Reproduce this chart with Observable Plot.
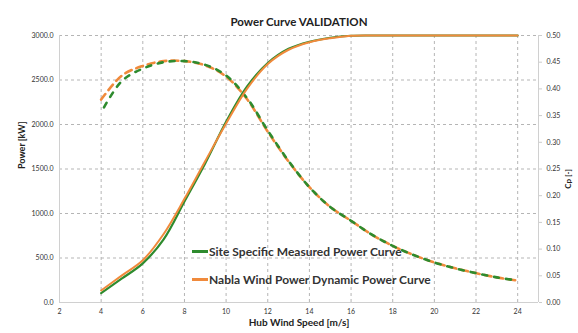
<!DOCTYPE html>
<html>
<head>
<meta charset="utf-8">
<script src="https://cdn.jsdelivr.net/npm/d3@7"></script>
<script src="https://cdn.jsdelivr.net/npm/@observablehq/plot@0.6"></script>
<style>
  body { margin: 0; background: #fff; }
  #wrap { position: relative; width: 578px; height: 333px; font-family: Lato, "Open Sans", sans-serif; }
  .leg { position: absolute; display: flex; align-items: center; font-weight: bold; font-size: 12px; color: #333; white-space: nowrap; }
  .leg span.sw { display: inline-block; width: 16px; height: 3px; margin-right: 1px; }
</style>
</head>
<body>
<div id="wrap"></div>
<script>
const windSpeed = [4, 5, 6, 7, 8, 9, 10, 11, 12, 13, 14, 15, 16, 17, 18, 19, 20, 21, 22, 23, 24];
const powerMeasured = [105, 270, 440, 710, 1135, 1565, 2030, 2425, 2690, 2850, 2930, 2975, 2997, 3000, 3000, 3000, 3000, 3000, 3000, 3000, 3000];
const powerNabla = [135, 305, 475, 770, 1165, 1590, 2010, 2400, 2680, 2840, 2925, 2970, 2997, 3000, 3000, 3000, 3000, 3000, 3000, 3000, 3000];
const cpMeasured = [0.356, 0.415, 0.438, 0.450, 0.452, 0.445, 0.425, 0.383, 0.322, 0.265, 0.216, 0.179, 0.153, 0.127, 0.106, 0.089, 0.075, 0.064, 0.055, 0.047, 0.041];
const cpNabla = [0.380, 0.425, 0.443, 0.452, 0.452, 0.444, 0.423, 0.381, 0.320, 0.264, 0.216, 0.179, 0.153, 0.127, 0.106, 0.089, 0.075, 0.064, 0.055, 0.047, 0.041];
const xTicks = [2, 4, 6, 8, 10, 12, 14, 16, 18, 20, 22, 24];
const powerTicks = [0, 500, 1000, 1500, 2000, 2500, 3000];
const cpTicks = [0, 0.05, 0.10, 0.15, 0.20, 0.25, 0.30, 0.35, 0.40, 0.45, 0.50];
const seriesNames = ["Site Specific Measured Power Curve", "Nabla Wind Power Dynamic Power Curve"];
const colors = ["#2e8b2e", "#f08a3c"];

const cpScale = 6000; // 0.50 Cp on the right axis aligns with 3000 kW
const rows = windSpeed.map((w, i) => ({w, pm: powerMeasured[i], pn: powerNabla[i], cm: cpMeasured[i] * cpScale, cn: cpNabla[i] * cpScale}));

const chart = Plot.plot({
  width: 578,
  height: 333,
  marginLeft: 59,
  marginRight: 40,
  marginTop: 35,
  marginBottom: 31,
  style: {fontFamily: "Lato, 'Open Sans', sans-serif", color: "#333", background: "#fff"},
  x: {domain: [2, 25]},
  y: {domain: [0, 3000]},
  marks: [
    Plot.gridY(powerTicks.filter(d => d > 0), {stroke: "#b5b5b5", strokeOpacity: 1, strokeDasharray: "3,3"}),
    Plot.gridX(xTicks.filter(d => d > 2), {stroke: "#b5b5b5", strokeOpacity: 1, strokeDasharray: "3,3"}),
    Plot.ruleY([0], {stroke: "#d0d0d0"}),
    Plot.ruleX([2], {stroke: "#d0d0d0"}),
    Plot.ruleX([25], {stroke: "#d0d0d0"}),
    Plot.axisX(xTicks, {tickSize: 0, tickPadding: 7, fontSize: 7, label: null, tickFormat: d => d}),
    Plot.axisY(powerTicks, {tickSize: 0, tickPadding: 6, fontSize: 7, label: null, tickFormat: d => d.toFixed(1)}),
    Plot.axisY(cpTicks.map(d => d * cpScale), {anchor: "right", tickSize: 3, tickPadding: 5, fontSize: 7, label: null, stroke: "#ccc", tickFormat: d => (d / cpScale).toFixed(2)}),
    Plot.line(rows, {x: "w", y: "cn", stroke: colors[1], strokeWidth: 2.6, strokeDasharray: "7,5", curve: "catmull-rom"}),
    Plot.line(rows, {x: "w", y: "cm", stroke: colors[0], strokeWidth: 2.6, strokeDasharray: "5,7", strokeDashoffset: 6, curve: "catmull-rom"}),
    Plot.line(rows, {x: "w", y: "pm", stroke: colors[0], strokeWidth: 2.2, curve: "catmull-rom"}),
    Plot.line(rows, {x: "w", y: "pn", stroke: colors[1], strokeWidth: 2, curve: "catmull-rom"}),
    Plot.text(["Power Curve VALIDATION"], {frameAnchor: "top", dy: -18, fontSize: 11.5, fontWeight: "bold", fill: "#222"}),
    Plot.text(["Hub Wind Speed [m/s]"], {frameAnchor: "bottom", dy: 23, fontSize: 10, fontWeight: "bold", fill: "#222"}),
    Plot.text(["Power [kW]"], {frameAnchor: "left", dx: -37, rotate: -90, fontSize: 9, fontWeight: "bold", fill: "#222"}),
    Plot.text(["Cp [-]"], {frameAnchor: "right", dx: 30, rotate: -90, fontSize: 8, fontWeight: "bold", fill: "#222"})
  ]
});
const wrap = document.getElementById("wrap");
wrap.appendChild(chart);

const legendPos = [{left: 192, top: 244}, {left: 192, top: 272}];
seriesNames.forEach((name, i) => {
  const d = document.createElement("div");
  d.className = "leg";
  d.style.left = legendPos[i].left + "px";
  d.style.top = legendPos[i].top + "px";
  d.innerHTML = `<span class="sw" style="background:${colors[i]}"></span>${name}`;
  wrap.appendChild(d);
});
</script>
</body>
</html>
